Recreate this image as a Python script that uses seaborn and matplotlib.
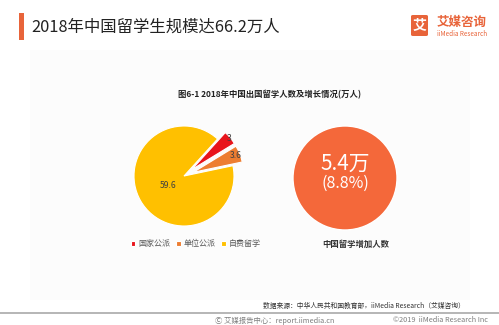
import matplotlib
matplotlib.use("Agg")
import matplotlib.pyplot as plt
from matplotlib.patches import Rectangle, FancyBboxPatch
import numpy as np
import seaborn as sns

sns.set_theme(style="white")
plt.rcParams["font.family"] = ["Noto Sans CJK SC", "DejaVu Sans"]

# Study-abroad breakdown for 2018 (10k persons)
categories = ["国家公派", "单位公派", "自费留学"]
values = [3.0, 3.6, 59.6]
value_labels = ["3", "3.6", "59.6"]
slice_colors = ["#E8141B", "#ED7D31", "#FFC000"]

# Year-on-year increase
increase = [5.4]
increase_text = "5.4万"
increase_pct = "(8.8%)"
increase_caption = "中国留学增加人数"

title = "2018年中国留学生规模达66.2万人"
chart_title = "图6-1 2018年中国出国留学人数及增长情况(万人)"
source = "数据来源：中华人民共和国教育部，iiMedia Research（艾媒咨询）"
footer_left = "Ⓒ 艾媒报告中心：report.iimedia.cn"
footer_right = "©2019  iiMedia Research Inc"

W, H = 499, 325
fig = plt.figure(figsize=(W / 100, H / 100), dpi=100)
fig.patch.set_facecolor("white")


def fx(px):
    return px / W


def fy(py):
    return 1 - py / H


# faint content panel, kept beneath the axes
fig.patches.append(Rectangle((fx(30), fy(300)), fx(440), 250 / H,
                             transform=fig.transFigure, facecolor="#FCFCFC",
                             edgecolor="none", zorder=-5))

# header accent bar and title
fig.patches.append(Rectangle((fx(19), fy(40)), fx(4.5), 27 / H,
                             transform=fig.transFigure, facecolor="#E8643A",
                             edgecolor="none"))
fig.text(fx(31), fy(27), title, fontsize=11.8, color="#222222",
         ha="left", va="center")

# brand logo
fig.patches.append(FancyBboxPatch((fx(411), fy(36)), fx(17), 21 / H,
                                  boxstyle="round,pad=0,rounding_size=0.004",
                                  transform=fig.transFigure,
                                  facecolor="#E8643A", edgecolor="none"))
fig.text(fx(419.5), fy(25.5), "艾", fontsize=10, color="white",
         fontweight="bold", ha="center", va="center")
fig.text(fx(437), fy(22), "艾媒咨询", fontsize=9, color="#E8643A",
         fontweight="bold", ha="left", va="center")
fig.text(fx(437), fy(33.5), "iiMedia Research", fontsize=4.6,
         color="#E8643A", ha="left", va="center")

fig.text(fx(270), fy(95), chart_title, fontsize=6, color="#222222",
         fontweight="bold", ha="center", va="center")

# pie of the composition
r_px = 50
cx, cy = 184, 176
lim = 1.3
ax = fig.add_axes([fx(cx - lim * r_px), fy(cy + lim * r_px),
                   fx(2 * lim * r_px), 2 * lim * r_px / H], zorder=2)
wedges, _ = ax.pie(values, colors=slice_colors, startangle=47.8,
                   counterclock=False, explode=[0.2, 0.2, 0.0],
                   wedgeprops=dict(edgecolor="white", linewidth=0.8))
ax.set_xlim(-lim, lim)
ax.set_ylim(-lim, lim)
ax.set_aspect("equal")
ax.axis("off")

label_dist = [0.97, 0.92, 0.37]
for w, lab, d in zip(wedges, value_labels, label_dist):
    mid = np.deg2rad((w.theta1 + w.theta2) / 2)
    x0, y0 = w.center
    ax.text(x0 + d * np.cos(mid), y0 + d * np.sin(mid), lab,
            fontsize=6.2, color="#404040", ha="center", va="center")

fig.legend(wedges, categories, loc="center", bbox_to_anchor=(fx(196), fy(244)),
           ncol=3, frameon=False, fontsize=5.8, handlelength=0.55,
           handleheight=0.55, handletextpad=0.4, columnspacing=0.7,
           labelcolor="#595959")

# single-value circle
r2 = 52
cx2, cy2 = 345, 178
lim2 = 1.2
ax2 = fig.add_axes([fx(cx2 - lim2 * r2), fy(cy2 + lim2 * r2),
                    fx(2 * lim2 * r2), 2 * lim2 * r2 / H], zorder=2)
ax2.pie(increase, colors=["#F4683A"], startangle=90)
ax2.set_xlim(-lim2, lim2)
ax2.set_ylim(-lim2, lim2)
ax2.set_aspect("equal")
ax2.axis("off")
ax2.text(0, 0.28, increase_text, fontsize=15, color="white",
         ha="center", va="center")
ax2.text(0, -0.1, increase_pct, fontsize=11.5, color="white",
         ha="center", va="center")
fig.text(fx(356), fy(244), increase_caption, fontsize=6, color="#333333",
         fontweight="bold", ha="center", va="center")

# footer
fig.text(fx(465), fy(305.5), source, fontsize=4.9, color="#333333",
         ha="right", va="center")
fig.add_artist(plt.Line2D([0, 1], [fy(313), fy(313)], transform=fig.transFigure,
                          color="#B5B5B5", linewidth=1.4))
fig.text(fx(215), fy(320.5), footer_left, fontsize=5.3, color="#7F7F7F",
         ha="left", va="center")
fig.text(fx(488), fy(320.5), footer_right, fontsize=5.3, color="#7F7F7F",
         ha="right", va="center")

fig.savefig("out.png", dpi=100, facecolor="white")
